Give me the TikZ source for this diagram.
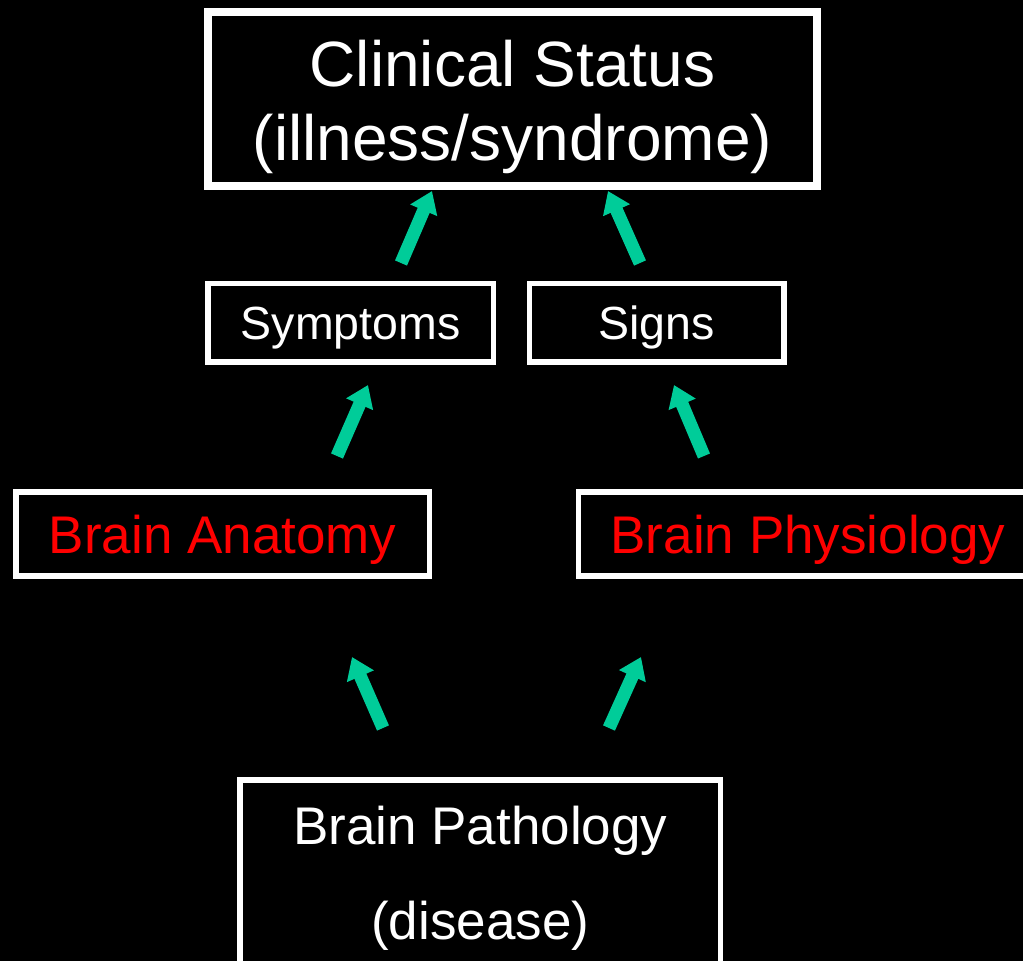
\documentclass[tikz,border=0pt]{standalone}
\usepackage{fontspec}
\setmainfont{Liberation Sans}
\usetikzlibrary{arrows.meta}
\definecolor{arrowgreen}{HTML}{00CC99}
\definecolor{txtred}{HTML}{FF0000}
\begin{document}
\begin{tikzpicture}[x=1pt,y=-1pt,
  box/.style={draw=white, line width=5.5pt, inner sep=0pt, text=white, fill=black, align=center},
  bigfont/.style={font=\fontsize{64}{74}\selectfont},
  midfont/.style={font=\fontsize{53}{95}\selectfont},
  smallfont/.style={font=\fontsize{46.5}{56}\selectfont},
  up/.style={draw=arrowgreen, line width=13pt, line cap=butt, -{Triangle[width=28pt,length=21pt]}},
]
\fill[black] (0,0) rectangle (1023,961);
\useasboundingbox (0,0) rectangle (1023,961);
\clip (0,0) rectangle (1023,961);

% boxes
\node[box, line width=8pt, minimum width=609pt, minimum height=174pt] (clin) at (512.5,99) {};
\node[text=white, bigfont, align=center, inner sep=0pt] (clintext) at (512.5,107) {Clinical Status\\(illness/syndrome)};

\node[box, smallfont, text height=44pt, text depth=10pt, minimum width=285.5pt, minimum height=78.5pt] (symp) at (350.75,322.75) {Symptoms};
\node[box, smallfont, text height=44pt, text depth=10pt, minimum width=254.5pt, minimum height=78.5pt] (sign) at (656.75,322.75) {Signs};

\node[box, midfont, text=txtred, text height=50pt, text depth=11pt, minimum width=413.5pt, minimum height=84pt] (anat) at (222.75,534) {Brain Anatomy};
\node[box, minimum width=481.5pt, minimum height=84pt] (phys) at (819.25,534) {};
\node[text=txtred, midfont, inner sep=0pt] (phystext) at (808,540) {Brain Physiology};

\node[box, midfont, minimum width=480.5pt, minimum height=196pt] (path) at (480.25,878) {Brain Pathology\\(disease)};

% arrow end points
\coordinate (a1s) at (401,263); \coordinate (a1e) at (432,191);
\coordinate (a2s) at (640,263); \coordinate (a2e) at (608,191);
\coordinate (a3s) at (337,456); \coordinate (a3e) at (368,385);
\coordinate (a4s) at (704,456); \coordinate (a4e) at (674,385);
\coordinate (a5s) at (383,728); \coordinate (a5e) at (352,657);
\coordinate (a6s) at (609,728); \coordinate (a6e) at (641,657);

\draw[up] (a1s) -- (a1e);
\draw[up] (a2s) -- (a2e);
\draw[up] (a3s) -- (a3e);
\draw[up] (a4s) -- (a4e);
\draw[up] (a5s) -- (a5e);
\draw[up] (a6s) -- (a6e);
\end{tikzpicture}
\end{document}
